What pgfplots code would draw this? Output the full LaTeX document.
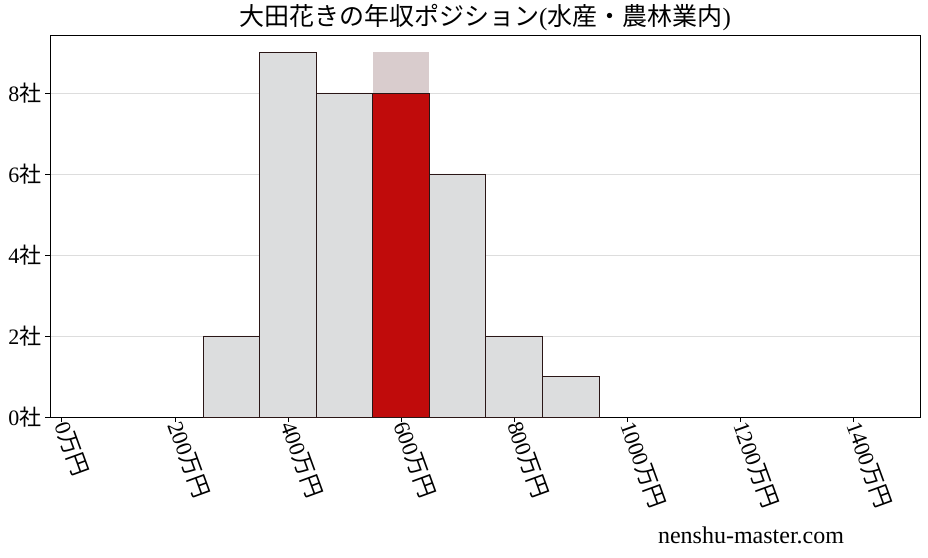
\documentclass[border=0pt]{standalone}
\usepackage{fontspec}
\setmainfont{Liberation Serif}
\newfontfamily\cjk{Noto Sans CJK JP}
\usepackage{pgfplots}
\pgfplotsset{compat=1.18}

\definecolor{barfill}{HTML}{DCDDDE}
\definecolor{baredge}{HTML}{2A1616}
\definecolor{hilite}{HTML}{C00B0B}
\definecolor{shadow}{HTML}{D9CCCD}
\definecolor{gridc}{HTML}{DDDDDD}

\begin{document}
\begin{tikzpicture}[x=1pt,y=1pt]
\begin{axis}[
    at={(50pt,140pt)}, anchor=south west,
    scale only axis,
    width=870pt,
    height=382pt,
    xmin=-21, xmax=1518,
    ymin=0, ymax=9.43,
    xtick={0,200,400,600,800,1000,1200,1400},
    xticklabels={0{\cjk 万円},200{\cjk 万円},400{\cjk 万円},600{\cjk 万円},800{\cjk 万円},1000{\cjk 万円},1200{\cjk 万円},1400{\cjk 万円}},
    ytick={0,2,4,6,8},
    yticklabels={0{\cjk 社},2{\cjk 社},4{\cjk 社},6{\cjk 社},8{\cjk 社}},
    xtick pos=bottom, ytick pos=left,
    xticklabel style={font=\fontsize{22.5}{24}\selectfont, rotate=-70, anchor=west, xshift=-3pt},
    yticklabel style={font=\fontsize{22}{24}\selectfont},
    tick align=outside,
    major tick length=5pt,
    tick style={black, line width=0.8pt},
    axis line style={black, line width=0.9pt},
    ymajorgrids=true,
    grid style={gridc, line width=0.8pt},
    title={{\cjk 大田花きの年収ポジション}({\cjk 水産・農林業内})},
    title style={font=\fontsize{25}{27}\selectfont, yshift=-5pt},
    ybar, bar width=100, bar shift=0pt,
]
% position of the company (background column)
\addplot[fill=shadow, draw=none] coordinates {(600,9)};
% distribution of companies in the industry
\addplot[fill=barfill, draw=baredge, line width=0.8pt] coordinates {
    (300,2) (400,9) (500,8) (700,6) (800,2) (900,1)
};
% highlighted bin
\addplot[fill=hilite, draw=baredge, line width=0.8pt] coordinates {(600,8)};
\end{axis}
\node[anchor=base, font=\fontsize{24}{26}\selectfont] at (751pt,14pt) {nenshu-master.com};
\useasboundingbox (0,0) rectangle (928pt,557pt);
\end{tikzpicture}
\end{document}
